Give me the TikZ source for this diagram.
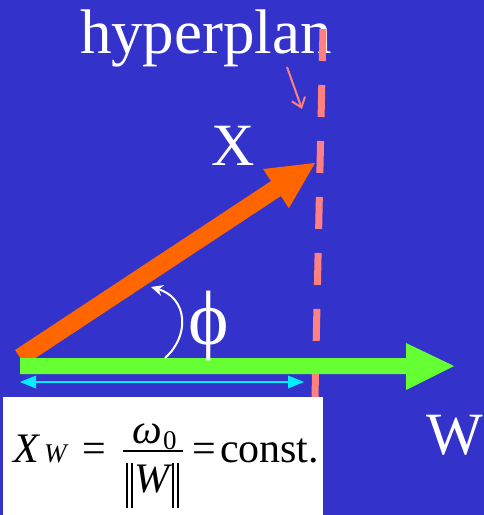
\documentclass[tikz,border=0pt]{standalone}
\usepackage{fontspec}
\setmainfont{Liberation Serif}
\usetikzlibrary{arrows.meta}
\definecolor{bg}{RGB}{51,51,204}
\definecolor{plane}{RGB}{255,128,128}
\definecolor{xorange}{RGB}{255,102,0}
\definecolor{wgreen}{RGB}{102,255,51}
\definecolor{dcyan}{RGB}{0,238,255}
\begin{document}
\begin{tikzpicture}[x=1pt,y=-1pt,
  txt/.style={inner sep=0pt, outer sep=0pt, anchor=base west},
  big/.style={font=\fontsize{60}{72}\selectfont, text=white},
  fml/.style={font=\fontsize{42}{48}\selectfont, text=black},
  fmlit/.style={font=\fontsize{42}{48}\selectfont\itshape, text=black},
  fmlsub/.style={font=\fontsize{27}{32}\selectfont\itshape, text=black}]
\useasboundingbox (0,0) rectangle (484,515);
\fill[bg] (0,0) rectangle (484,515);
% labels
\node[txt, text=white, font=\fontsize{63}{72}\selectfont] (hyp) at (80,53) {hyperplan};
\node[txt, big] (xlab) at (211,165) {X};
\node[txt, big] (wlab) at (426,454) {W};
% hyperplane
\coordinate (ptop) at (323,29);
\coordinate (pbot) at (315,397);
\draw[plane, line width=7pt, dash pattern=on 32pt off 24pt] (ptop) -- (pbot);
% pointer arrow
\coordinate (pa) at (287,67);
\coordinate (pb) at (302,109);
\draw[plane, line width=2pt, -{Straight Barb[length=9pt,width=14pt]}] (pa) -- (pb);
% X vector (orange)
\fill[xorange] (15.1,350.0) -- (271.1,181.0) -- (263,169) -- (315,163)
  -- (288.9,208.2) -- (280.9,196.0) -- (24.9,365.0) -- cycle;
% W vector (green)
\fill[wgreen] (20,358) -- (406,358) -- (406,343) -- (454,366) -- (406,390)
  -- (406,374) -- (20,374) -- cycle;
% projection (cyan)
\coordinate (ca) at (20,382);
\coordinate (cb) at (304,382);
\draw[dcyan, line width=2.5pt] (35,382) -- (290,382);
\fill[dcyan] (ca) -- (36,375.5) -- (36,388.5) -- cycle;
\fill[dcyan] (cb) -- (288,375.5) -- (288,388.5) -- cycle;
% angle
\coordinate (aa) at (165,358);
\coordinate (ab) at (151,287);
\draw[white, line width=2pt, -{Stealth[length=12pt,width=11pt]}]
  (aa) .. controls (190,336) and (188,298) .. (ab);
\node[inner sep=0pt, text=white, font=\fontsize{77}{80}\selectfont] (phi) at (209,326) {ϕ};
% formula box
\fill[white] (3,397) rectangle (323,515);
\node[txt, fmlit] (fx) at (13,462) {X};
\node[txt, fmlsub] (fw) at (44,462) {W};
\node[txt, fml] (eq1) at (82,462) {=};
\node[txt, fmlit] (om) at (132,443) {ω};
\node[txt, fmlsub] (zero) at (163,449) {\upshape 0};
\draw[black, line width=1.8pt] (123,451) -- (183,451);
\draw[black, line width=1.5pt] (127,463) -- (127,508) (132,463) -- (132,508)
  (173,463) -- (173,508) (178,463) -- (178,508);
\node[txt, fmlit] (wn) at (134,492) {W};
\node[txt, fml] (eq2) at (192,462) {=};
\node[txt, fml] (cst) at (220,462) {const.};
\end{tikzpicture}
\end{document}
